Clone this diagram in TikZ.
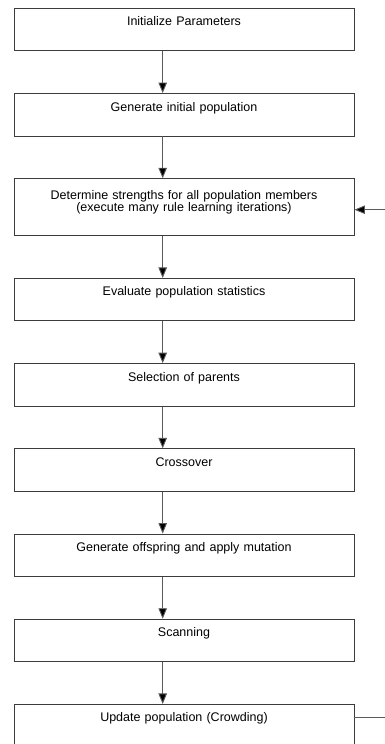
\documentclass[tikz,border=0pt]{standalone}
\usepackage{fontspec}
\setmainfont{Liberation Sans}
\usetikzlibrary{arrows.meta, positioning, calc}
\definecolor{colBorder}{RGB}{60,60,60}
\definecolor{colLink}{RGB}{90,90,90}
\tikzset{
    stage/.style={rectangle, draw=colBorder, line width=0.9pt, inner xsep=0pt, inner ysep=0pt,
        text width=340pt, align=center, text height=17.5pt, text depth=25pt,
        font=\fontsize{12.5}{12.2}\selectfont},
    tallstage/.style={stage, text height=20.5pt, text depth=36.5pt},
    link/.style={draw=colLink, line width=0.9pt},
    arrow/.style={link, -{Triangle[length=10.5pt, width=8.5pt, fill=black]}}
}

\begin{document}
\begin{tikzpicture}[node distance=41.8pt]

    \useasboundingbox (-184pt,29.55pt) rectangle ++(385pt,-744pt);

    \node[stage] (init) at (0,0) {Initialize Parameters};
    \node[stage, below=of init] (genpop) {Generate initial population};
    \node[tallstage, below=of genpop] (strength) {Determine strengths for all population members\\(execute many rule learning iterations)};
    \node[stage, below=of strength] (evalstat) {Evaluate population statistics};
    \node[stage, below=of evalstat] (select) {Selection of parents};
    \node[stage, below=of select] (cross) {Crossover};
    \node[stage, below=of cross] (offspring) {Generate offspring and apply mutation};
    \node[stage, below=of offspring] (scan) {Scanning};
    \node[stage, below=of scan, text depth=28pt] (update) {Update population (Crowding)};

    \draw[arrow] ([xshift=-21.3pt]init.south) -- ([xshift=-21.3pt]genpop.north);
    \draw[arrow] ([xshift=-21.3pt]genpop.south) -- ([xshift=-21.3pt]strength.north);
    \draw[arrow] ([xshift=-21.3pt]strength.south) -- ([xshift=-21.3pt]evalstat.north);
    \draw[arrow] ([xshift=-21.3pt]evalstat.south) -- ([xshift=-21.3pt]select.north);
    \draw[arrow] ([xshift=-21.3pt]select.south) -- ([xshift=-21.3pt]cross.north);
    \draw[arrow] ([xshift=-21.3pt]cross.south) -- ([xshift=-21.3pt]offspring.north);
    \draw[arrow] ([xshift=-21.3pt]offspring.south) -- ([xshift=-21.3pt]scan.north);
    \draw[arrow] ([xshift=-21.3pt]scan.south) -- ([xshift=-21.3pt]update.north);

    % loop back to the strength step (runs off the right edge)
    \coordinate (loopout) at ([xshift=31pt, yshift=-13.7pt]update.north east);
    \coordinate (loopin) at ([xshift=31pt, yshift=-2.5pt]strength.east);
    \draw[link] ([yshift=-13.7pt]update.north east) -- (loopout);
    \draw[arrow] (loopin) -- ([yshift=-2.5pt]strength.east);

\end{tikzpicture}
\end{document}
